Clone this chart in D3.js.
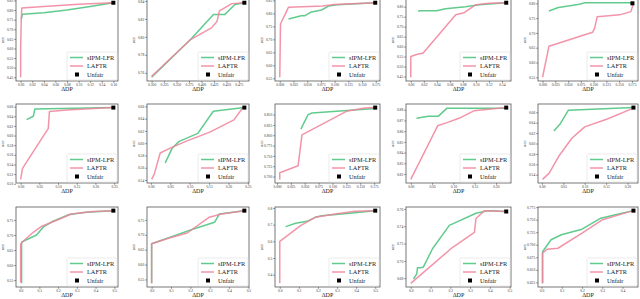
<!DOCTYPE html>
<html>
<head>
<meta charset="utf-8">
<script src="https://cdn.jsdelivr.net/npm/d3@7/dist/d3.min.js"></script>
<style>
  body { margin: 0; background: #fff; }
  svg { display: block; }
  text { font-family: "Liberation Serif", "DejaVu Serif", serif; }
</style>
</head>
<body>
<svg id="chart" width="640" height="299"></svg>
<script>
// one entry per panel, row by row (3 rows x 5 cols), points are [ΔDP, acc]
const sipmLfr = [
  [[0.001,0.753],[0.003,0.778],[0.04,0.786],[0.08,0.80],[0.12,0.818],[0.16,0.838]],
  [[0.300,0.755],[0.378,0.797],[0.424,0.825],[0.447,0.825],[0.467,0.836],[0.486,0.838]],
  [[0.016,0.778],[0.039,0.791],[0.046,0.791],[0.056,0.804],[0.076,0.813],[0.089,0.828],[0.105,0.833],[0.174,0.841]],
  [[0.0114,0.777],[0.014,0.78],[0.04,0.78],[0.053,0.79],[0.084,0.80],[0.105,0.81],[0.1465,0.82]],
  [[0.0126,0.774],[0.031,0.786],[0.057,0.793],[0.072,0.797],[0.083,0.802],[0.176,0.802]],
  [[0.016,0.633],[0.034,0.64],[0.038,0.655],[0.248,0.658]],
  [[0.037,0.568],[0.055,0.592],[0.073,0.603],[0.121,0.616],[0.161,0.652],[0.241,0.658]],
  [[0.043,0.815],[0.056,0.85],[0.063,0.854],[0.177,0.865]],
  [[0.0135,0.872],[0.041,0.874],[0.065,0.874],[0.085,0.8815],[0.224,0.8815]],
  [[0.028,0.624],[0.043,0.638],[0.062,0.664],[0.214,0.669]],
  [[0.005,0.539],[0.005,0.676],[0.014,0.679],[0.085,0.70],[0.12,0.726],[0.173,0.746],[0.26,0.768],[0.35,0.776],[0.495,0.781]],
  [[0,0.537],[0,0.67],[0.096,0.692],[0.22,0.72],[0.325,0.742],[0.35,0.77],[0.479,0.781]],
  [[0.031,0.688],[0.083,0.708],[0.143,0.72],[0.186,0.744],[0.22,0.754],[0.324,0.764],[0.5,0.784]],
  [[0.014,0.679],[0.03,0.685],[0.034,0.692],[0.05,0.692],[0.064,0.693],[0.11,0.714],[0.195,0.741],[0.33,0.755],[0.39,0.758],[0.483,0.757]],
  [[0.005,0.623],[0.005,0.686],[0.047,0.71],[0.098,0.72],[0.2,0.731],[0.293,0.753],[0.386,0.762],[0.454,0.768]]
];

const laftr = [
  [[0,0.45],[0,0.60],[0.001,0.74],[0.002,0.81],[0.04,0.818],[0.10,0.83],[0.16,0.838]],
  [[0.300,0.756],[0.315,0.764],[0.378,0.797],[0.42,0.81],[0.431,0.817],[0.436,0.829],[0.461,0.837],[0.486,0.838]],
  [[0,0.554],[0.0013,0.759],[0.016,0.824],[0.079,0.828],[0.099,0.834],[0.174,0.841]],
  [[0,0.446],[0,0.55],[0.009,0.56],[0.019,0.568],[0.069,0.76],[0.082,0.77],[0.10,0.81],[0.12,0.817],[0.1465,0.82]],
  [[0,0.55],[0.0126,0.655],[0.098,0.702],[0.102,0.716],[0.107,0.755],[0.151,0.761],[0.173,0.772],[0.178,0.80]],
  [[0,0.509],[0.005,0.532],[0.074,0.615],[0.077,0.65],[0.123,0.653],[0.248,0.658]],
  [[0.002,0.541],[0.009,0.55],[0.024,0.584],[0.05,0.592],[0.09,0.603],[0.152,0.618],[0.214,0.638],[0.236,0.657],[0.241,0.658]],
  [[0.005,0.693],[0.005,0.709],[0.038,0.726],[0.045,0.801],[0.125,0.858],[0.158,0.866],[0.177,0.867]],
  [[0,0.815],[0.063,0.865],[0.085,0.868],[0.113,0.872],[0.148,0.879],[0.224,0.882]],
  [[0.0015,0.531],[0.017,0.543],[0.039,0.575],[0.07,0.61],[0.1,0.632],[0.153,0.647],[0.214,0.668]],
  [[0,0.542],[0,0.67],[0.014,0.679],[0.067,0.709],[0.11,0.728],[0.19,0.748],[0.27,0.77],[0.385,0.778],[0.495,0.781]],
  [[0,0.537],[0,0.67],[0.096,0.69],[0.184,0.706],[0.298,0.759],[0.36,0.77],[0.479,0.781]],
  [[0,0.348],[0,0.6],[0.109,0.694],[0.186,0.744],[0.29,0.764],[0.395,0.78],[0.5,0.784]],
  [[0,0.674],[0.203,0.714],[0.322,0.733],[0.33,0.749],[0.373,0.758],[0.483,0.757]],
  [[0.005,0.623],[0.005,0.683],[0.027,0.691],[0.081,0.693],[0.2,0.723],[0.302,0.75],[0.386,0.76],[0.454,0.768]]
];

const unfair = [
  [0.16,0.838],[0.486,0.838],[0.174,0.841],[0.1465,0.82],[0.176,0.80],
  [0.248,0.658],[0.241,0.658],[0.177,0.867],[0.224,0.882],[0.214,0.669],
  [0.495,0.781],[0.479,0.781],[0.5,0.784],[0.483,0.757],[0.454,0.768]
];

const xTicks = [
  ['0.00','0.02','0.04','0.06','0.08','0.10','0.12','0.14','0.16'],
  ['0.300','0.325','0.350','0.375','0.400','0.425','0.450','0.475'],
  ['0.000','0.025','0.050','0.075','0.100','0.125','0.150','0.175'],
  ['0.00','0.02','0.04','0.06','0.08','0.10','0.12','0.14'],
  ['0.000','0.025','0.050','0.075','0.100','0.125','0.150','0.175'],
  ['0.00','0.05','0.10','0.15','0.20','0.25'],
  ['0.00','0.05','0.10','0.15','0.20','0.25'],
  ['0.000','0.025','0.050','0.075','0.100','0.125','0.150','0.175'],
  ['0.00','0.05','0.10','0.15','0.20'],
  ['0.00','0.05','0.10','0.15','0.20'],
  ['0.0','0.1','0.2','0.3','0.4','0.5'],
  ['0.0','0.1','0.2','0.3','0.4','0.5'],
  ['0.0','0.1','0.2','0.3','0.4','0.5'],
  ['0.0','0.1','0.2','0.3','0.4','0.5'],
  ['0.0','0.1','0.2','0.3','0.4']
];

const yTicks = [
  ['0.45','0.50','0.55','0.60','0.65','0.70','0.75','0.80','0.85'],
  ['0.76','0.78','0.80','0.82','0.84'],
  ['0.55','0.60','0.65','0.70','0.75','0.80','0.85'],
  ['0.45','0.50','0.55','0.60','0.65','0.70','0.75','0.80'],
  ['0.55','0.60','0.65','0.70','0.75','0.80'],
  ['0.50','0.52','0.54','0.56','0.58','0.60','0.62','0.64','0.66'],
  ['0.54','0.56','0.58','0.60','0.62','0.64','0.66'],
  ['0.700','0.725','0.750','0.775','0.800','0.825','0.850'],
  ['0.82','0.83','0.84','0.85','0.86','0.87','0.88'],
  ['0.54','0.56','0.58','0.60','0.62','0.64','0.66'],
  ['0.55','0.60','0.65','0.70','0.75'],
  ['0.55','0.60','0.65','0.70','0.75'],
  ['0.4','0.5','0.6','0.7','0.8'],
  ['0.68','0.70','0.72','0.74','0.76'],
  ['0.625','0.650','0.675','0.700','0.725','0.750','0.775']
];

const seriesNames = ['sIPM-LFR', 'LAFTR', 'Unfair'];

// panel frames
const colX = [[16,118],[147,249],[275,380],[406,511],[538,638]];
const rowY = [[-1,81],[104,183],[207,287]];
const green = '#45c27a', pink = '#f0819a';

const svg = d3.select('#chart');

function padded(vals) {
  const [lo, hi] = d3.extent(vals);
  const r = hi - lo;
  return [lo - 0.05 * r, hi + 0.05 * r];
}

sipmLfr.forEach((gData, i) => {
  const rData = laftr[i];
  const u = unfair[i];
  const [x0, x1] = colX[i % 5];
  const [y0, y1] = rowY[Math.floor(i / 5)];
  const all = gData.concat(rData, [u]);

  const x = d3.scaleLinear().domain(padded(all.map(d => d[0]))).range([x0, x1]);
  const y = d3.scaleLinear().domain(padded(all.map(d => d[1]))).range([y1, y0]);

  const g = svg.append('g');

  // ticks
  const xa = g.append('g').attr('transform', `translate(0,${y1})`)
    .call(d3.axisBottom(x).tickValues(xTicks[i].map(Number))
      .tickFormat((d, k) => xTicks[i][k]).tickSize(1.8).tickPadding(1));
  const ya = g.append('g').attr('transform', `translate(${x0},0)`)
    .call(d3.axisLeft(y).tickValues(yTicks[i].map(Number))
      .tickFormat((d, k) => yTicks[i][k]).tickSize(1.8).tickPadding(1));
  [xa, ya].forEach(a => {
    a.select('.domain').remove();
    a.selectAll('line').attr('stroke', '#444').attr('stroke-width', 0.6);
    a.selectAll('text').attr('font-size', 3.6).attr('fill', '#333')
      .style('font-family', '"Liberation Serif", serif');
  });

  const line = d3.line().x(d => x(d[0])).y(d => y(d[1]));

  g.append('path').datum(gData).attr('d', line)
    .attr('fill', 'none').attr('stroke', green).attr('stroke-width', 1.5)
    .attr('stroke-opacity', 0.85).attr('stroke-linejoin', 'round');
  g.append('path').datum(rData).attr('d', line)
    .attr('fill', 'none').attr('stroke', pink).attr('stroke-width', 1.5)
    .attr('stroke-opacity', 0.85).attr('stroke-linejoin', 'round');

  g.append('rect')
    .attr('x', x(u[0]) - 2).attr('y', y(u[1]) - 2)
    .attr('width', 4).attr('height', 4).attr('fill', '#000');

  // frame
  g.append('rect').attr('x', x0).attr('y', y0)
    .attr('width', x1 - x0).attr('height', y1 - y0)
    .attr('fill', 'none').attr('stroke', '#555').attr('stroke-width', 0.8);

  // labels
  g.append('text').attr('x', (x0 + x1) / 2).attr('y', y1 + 10)
    .attr('text-anchor', 'middle').attr('font-size', 6).attr('fill', '#222')
    .text('ΔDP');
  g.append('text')
    .attr('transform', `translate(${x0 - 12},${(y0 + y1) / 2}) rotate(-90)`)
    .attr('text-anchor', 'middle').attr('font-size', 5).attr('fill', '#222')
    .text('acc');

  // legend
  const lw = 50, lh = 28;
  const lx = x1 - lw - 1, ly = y1 - lh - 1;
  const lg = g.append('g').attr('transform', `translate(${lx},${ly})`);
  lg.append('rect').attr('width', lw).attr('height', lh).attr('rx', 1.5)
    .attr('fill', '#fff').attr('fill-opacity', 0.85)
    .attr('stroke', '#ddd').attr('stroke-width', 0.6);
  seriesNames.forEach((name, k) => {
    const cy = 5.5 + k * 8.5;
    if (k < 2) {
      lg.append('line').attr('x1', 3).attr('x2', 16).attr('y1', cy).attr('y2', cy)
        .attr('stroke', k === 0 ? green : pink).attr('stroke-width', 1.5)
        .attr('stroke-opacity', 0.85);
    } else {
      lg.append('rect').attr('x', 8).attr('y', cy - 2).attr('width', 4).attr('height', 4)
        .attr('fill', '#000');
    }
    lg.append('text').attr('x', 20).attr('y', cy + 2.2)
      .attr('font-size', 6.3).attr('fill', '#222').text(name);
  });
});
</script>
</body>
</html>
